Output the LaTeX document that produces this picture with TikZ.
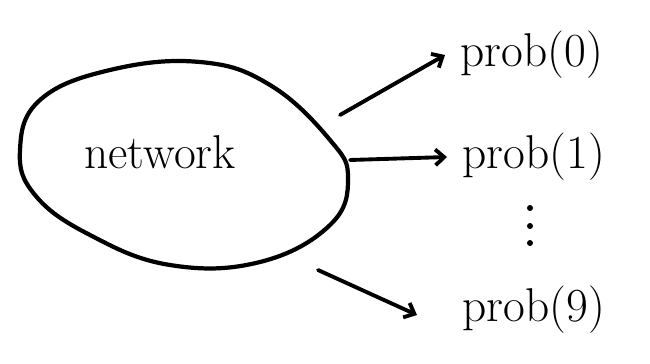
\documentclass[tikz,border=0pt]{standalone}
\usepackage{tikz}
\usetikzlibrary{arrows.meta, positioning, calc}
\definecolor{mydark}{RGB}{0,0,0}
\tikzset{
  blob/.style={draw=mydark, line width=2.4pt, line join=round},
  arrow/.style={-{Straight Barb[length=5pt,width=9pt]}, line width=2.2pt, color=mydark, line cap=round},
  problabel/.style={font=\fontsize{27}{30}\selectfont, anchor=west, inner sep=0pt},
  netlabel/.style={font=\fontsize{27}{30}\selectfont, inner sep=0pt},
  dotmark/.style={circle, fill=mydark, inner sep=0pt, minimum size=0.12cm}
}
\begin{document}
\begin{tikzpicture}
  \useasboundingbox (0,0) rectangle (13,7.26);

  % Network blob
  \draw[blob] plot[smooth cycle, tension=0.7] coordinates {
    (0.4,4.26) (0.8,5.26) (2.2,5.86) (4.0,6.02) (5.4,5.56) (6.6,4.46)
    (6.96,3.7) (6.6,2.76) (5.2,2.02) (3.4,1.96) (1.8,2.56) (0.7,3.36)};
  \node[netlabel] (net) at (3.2,4.22) {network};

  % Outputs
  \node[problabel] (p0) at (9.2,6.16) {prob(0)};
  \node[problabel] (p1) at (9.24,4.12) {prob(1)};
  \node[problabel] (p9) at (9.24,1.06) {prob(9)};

  % Vertical dots
  \node[dotmark] (d1) at (10.6,3.1) {};
  \node[dotmark] (d2) at (10.6,2.74) {};
  \node[dotmark] (d3) at (10.6,2.4) {};

  % Arrows
  \coordinate (a0) at (6.8,4.96);
  \coordinate (a1) at (7.0,4.06);
  \coordinate (a9) at (6.36,1.86);
  \draw[arrow] (a0) -- ($(p0.west)+(-0.3,0)$);
  \draw[arrow] (a1) -- ($(p1.west)+(-0.3,0)$);
  \draw[arrow] (a9) -- ($(p9.west)+(-0.9,-0.1)$);
\end{tikzpicture}
\end{document}
